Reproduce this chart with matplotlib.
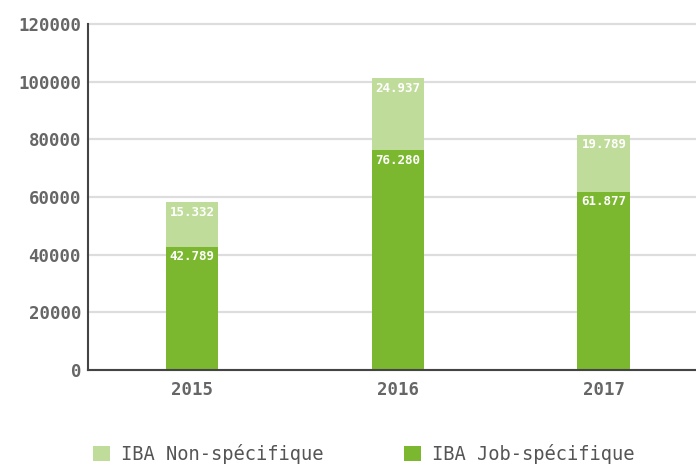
import matplotlib
matplotlib.use("Agg")
import matplotlib.pyplot as plt

years = ["2015", "2016", "2017"]
job_specific = [42789, 76280, 61877]
non_specific = [15332, 24937, 19789]
series_labels = ["IBA Non-spécifique", "IBA Job-spécifique"]
yticks = [0, 20000, 40000, 60000, 80000, 100000, 120000]

C_JOB, C_NON = "#7cb82f", "#c0dc9a"
C_TEXT = "#666666"
FONT = "DejaVu Sans Mono"

plt.rcParams["font.family"] = FONT

fig = plt.figure(figsize=(6.96, 4.66), dpi=100)
ax = fig.add_axes([88 / 696, 1 - 370 / 466, 1 - 88 / 696, (370 - 24) / 466])

x = list(range(len(years)))
w = 0.257
b1 = ax.bar(x, job_specific, width=w, color=C_JOB, zorder=2, label=series_labels[1])
b2 = ax.bar(x, non_specific, width=w, bottom=job_specific, color=C_NON, zorder=2,
            label=series_labels[0])


def fmt(v):
    return f"{v:,}".replace(",", ".")


for xi, j, n in zip(x, job_specific, non_specific):
    ax.text(xi, j - 1200, fmt(j), ha="center", va="top", color="white",
            fontsize=9, fontweight="bold")
    ax.text(xi, j + n - 1200, fmt(n), ha="center", va="top", color="white",
            fontsize=9, fontweight="bold")

ax.set_xlim(-0.505, 2.447)
ax.set_ylim(0, 120000)
ax.set_yticks(yticks)
ax.set_yticklabels([str(t) for t in yticks])
ax.set_xticks(x)
ax.set_xticklabels(years)
ax.yaxis.grid(True, color="#dddddd", lw=1.6, zorder=0, clip_on=False)
ax.set_axisbelow(True)
ax.tick_params(axis="both", length=0, colors=C_TEXT, labelsize=12.5)
ax.tick_params(axis="x", pad=8)
ax.tick_params(axis="y", pad=5)
for lab in ax.get_xticklabels() + ax.get_yticklabels():
    lab.set_fontweight("bold")
for s in ("top", "right"):
    ax.spines[s].set_visible(False)
for s in ("left", "bottom"):
    ax.spines[s].set_color("#444444")
    ax.spines[s].set_linewidth(1.5)

fig.legend([b2, b1], series_labels, loc="center left", bbox_to_anchor=(76 / 696, 1 - 454 / 466),
           ncol=2, frameon=False, fontsize=13.5, handlelength=0.9, handleheight=0.9,
           handletextpad=0.6, columnspacing=4.3, labelcolor="#555555")

fig.savefig("out.png", dpi=100, facecolor="white")
